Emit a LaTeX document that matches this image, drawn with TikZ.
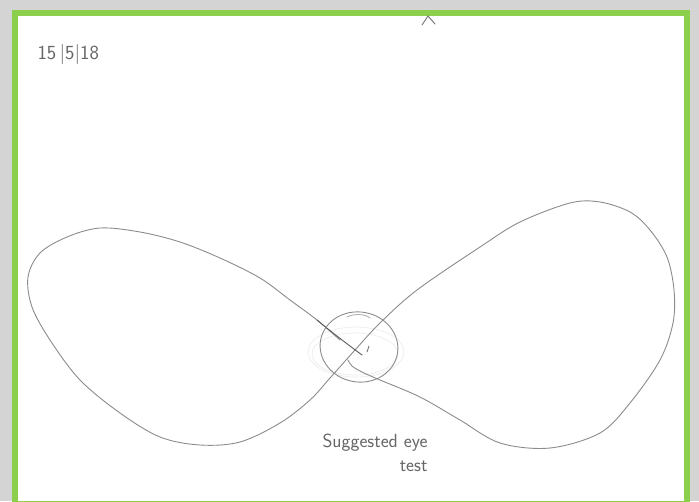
\documentclass[tikz,border=0pt]{standalone}
\usepackage{tikz}
\usetikzlibrary{calc}

\begin{document}
\begin{tikzpicture}[x=1pt, y=-1pt,
    every node/.style={font=\sffamily, text=black!60},
    pencil/.style={draw=black!45, line width=0.9pt, line cap=round, line join=round},
    faint/.style={draw=black!7, line width=0.7pt},
  ]
    \definecolor{frame}{HTML}{8CCF4D}
    \definecolor{shadow}{HTML}{D4D4D4}

    % page, shadow and green frame
    \useasboundingbox (0,0) rectangle (699,501);
    \fill[shadow] (0,0) rectangle (699,501);
    \draw[frame, line width=6pt, fill=white] (15,13) rectangle (687,504);

    % handwritten date
    \node[anchor=west, font=\sffamily\fontsize{20}{20}\selectfont] (date) at (34,54) {15\,|5|18};

    % small caret at the top edge
    \draw[pencil, draw=black!55] (422,25) -- (428,16) -- (435,24);

    % faint erased rings round the eye
    \draw[faint] (356,352) ellipse [x radius=48, y radius=25];
    \draw[faint] (355,354) ellipse [x radius=43, y radius=21];

    % the figure of eight, one stroke
    \draw[pencil] plot[smooth, tension=0.55] coordinates {
      (340,340) (317,320) (290,300) (260,278) (220,258) (180,242) (140,232) (100,228)
      (67,237) (40,253) (28,277) (32,307) (50,340) (80,380) (120,413) (160,437)
      (200,445) (240,442) (280,423) (310,400) (330,378) (355,350) (380,323)
      (417,290) (480,247) (520,222) (570,203) (600,202) (630,212) (650,230)
      (667,257) (674,290) (673,323) (660,360) (630,403) (600,433) (550,448)
      (500,443) (460,420) (420,397) (380,380) (362,372) (352,366) (348,360)};
    % darker end of the upper stroke
    \draw[pencil, draw=black!65] (317,320) .. controls (335,335) and (350,346) .. (362,355);

    % the eye
    \draw[pencil] (359,347) ellipse [x radius=39, y radius=35, rotate=-10];
    \draw[pencil, draw=black!30] (347,317) .. controls (355,313) and (365,314) .. (370,318);
    \draw[pencil, draw=black!55] (369,346) -- (367,352);

    % caption
    \node[anchor=north east, align=right, font=\sffamily\fontsize{19}{24}\selectfont] (caption) at (431,430)
      {Suggested eye\\test};
  \end{tikzpicture}
\end{document}
